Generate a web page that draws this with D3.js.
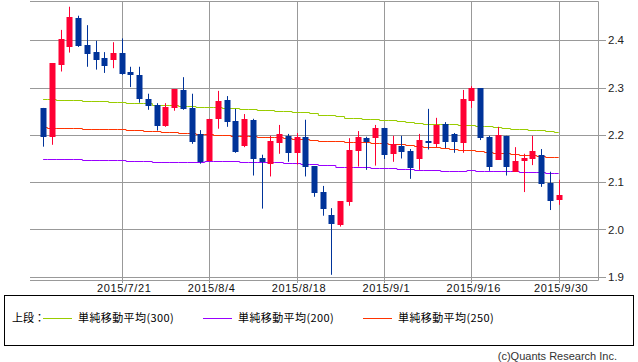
<!DOCTYPE html>
<html><head><meta charset="utf-8">
<script src="https://cdn.jsdelivr.net/npm/d3@7"></script>
<style>body{margin:0;background:#fff}svg{display:block}</style>
</head><body><svg id="c" width="638" height="362"></svg>
<script>
const dates = ["7/8","7/9","7/10","7/13","7/14","7/15","7/16","7/17","7/20","7/21","7/22","7/23","7/24","7/27","7/28","7/29","7/30","7/31",
"8/3","8/4","8/5","8/6","8/7","8/10","8/11","8/12","8/13","8/14","8/17","8/18","8/19","8/20","8/21","8/24","8/25","8/26","8/27","8/28","8/31",
"9/1","9/2","9/3","9/4","9/8","9/9","9/10","9/11","9/14","9/15","9/16","9/17","9/18","9/21","9/22","9/23","9/24","9/25","9/28","9/29","9/30"];
const opens = [2.257,2.196,2.348,2.386,2.447,2.390,2.375,2.362,2.358,2.374,2.332,2.327,2.276,2.263,2.219,2.257,2.295,2.257,2.201,2.144,2.234,2.274,2.229,2.177,2.232,2.151,2.139,2.183,2.198,2.162,2.196,2.134,2.079,2.031,2.009,2.057,2.166,2.193,2.194,2.215,2.160,2.177,2.166,2.149,2.187,2.181,2.223,2.202,2.183,2.272,2.299,2.196,2.147,2.198,2.122,2.145,2.149,2.157,2.098,2.062];
const highs = [2.257,2.352,2.422,2.471,2.452,2.432,2.399,2.375,2.396,2.404,2.344,2.344,2.287,2.267,2.267,2.297,2.322,2.287,2.210,2.234,2.293,2.282,2.255,2.244,2.234,2.158,2.198,2.221,2.202,2.204,2.232,2.134,2.092,2.045,2.060,2.193,2.208,2.196,2.221,2.215,2.198,2.198,2.170,2.202,2.255,2.236,2.227,2.204,2.295,2.303,2.299,2.198,2.217,2.198,2.174,2.160,2.198,2.170,2.122,2.105];
const lows = [2.175,2.179,2.334,2.374,2.386,2.344,2.338,2.331,2.341,2.327,2.301,2.268,2.253,2.209,2.217,2.251,2.253,2.181,2.139,2.144,2.213,2.217,2.162,2.174,2.114,2.044,2.112,2.160,2.143,2.137,2.112,2.069,2.029,1.904,2.006,2.050,2.133,2.126,2.135,2.149,2.143,2.150,2.107,2.126,2.169,2.174,2.172,2.162,2.162,2.257,2.189,2.124,2.147,2.114,2.122,2.079,2.136,2.090,2.041,2.052];
const closes = [2.196,2.352,2.403,2.449,2.389,2.372,2.358,2.346,2.374,2.329,2.327,2.276,2.261,2.219,2.259,2.297,2.255,2.185,2.142,2.234,2.272,2.228,2.164,2.234,2.150,2.143,2.187,2.202,2.162,2.196,2.131,2.078,2.044,2.012,2.060,2.168,2.196,2.185,2.215,2.158,2.181,2.164,2.130,2.190,2.183,2.221,2.185,2.185,2.276,2.299,2.194,2.132,2.200,2.131,2.145,2.151,2.166,2.096,2.060,2.073];
const sma300 = [2.275,2.275,2.274,2.274,2.274,2.272,2.272,2.272,2.270,2.270,2.267,2.267,2.267,2.264,2.264,2.264,2.261,2.261,2.258,2.258,2.258,2.256,2.256,2.254,2.254,2.253,2.253,2.250,2.250,2.248,2.248,2.246,2.243,2.243,2.240,2.236,2.236,2.234,2.234,2.231,2.231,2.229,2.227,2.225,2.224,2.224,2.222,2.222,2.220,2.220,2.218,2.218,2.216,2.215,2.212,2.212,2.210,2.210,2.208,2.206];
const sma200 = [2.150,2.150,2.148,2.148,2.148,2.146,2.146,2.146,2.146,2.146,2.144,2.144,2.144,2.142,2.142,2.142,2.142,2.142,2.142,2.144,2.144,2.144,2.144,2.142,2.142,2.142,2.142,2.142,2.140,2.140,2.138,2.138,2.136,2.136,2.133,2.131,2.131,2.131,2.129,2.129,2.129,2.127,2.127,2.125,2.125,2.125,2.123,2.123,2.123,2.125,2.123,2.123,2.123,2.123,2.123,2.121,2.121,2.121,2.119,2.119];
const sma250 = [2.216,2.215,2.215,2.215,2.215,2.213,2.213,2.213,2.212,2.212,2.210,2.210,2.208,2.208,2.206,2.206,2.204,2.204,2.202,2.202,2.200,2.200,2.198,2.198,2.197,2.196,2.196,2.196,2.193,2.192,2.192,2.189,2.186,2.186,2.186,2.185,2.185,2.184,2.183,2.183,2.181,2.181,2.179,2.176,2.174,2.174,2.172,2.170,2.168,2.168,2.166,2.164,2.162,2.162,2.160,2.157,2.157,2.155,2.153,2.153];
const xTickDates = ["7/21","8/4","8/18","9/1","9/16","9/30"];
const xTickLabels = ["2015/7/21","2015/8/4","2015/8/18","2015/9/1","2015/9/16","2015/9/30"];
const yTicks = [1.9,2.0,2.1,2.2,2.3,2.4];
const legendNames = ["単純移動平均(300)","単純移動平均(200)","単純移動平均(250)"];
const legendColors = ["#99cc00","#9900ff","#ff3300"];

const svg = d3.select("#c");
const L = 30, R = 598, T = 1, B = 280;
const x = d3.scaleLinear().domain([-1.5, dates.length + 3.5]).range([L, R]);
const y = d3.scaleLinear().domain([1.9, 2.4]).range([276.7, 40.3]);
const grid = "#999999";

// gridlines
svg.append("g").selectAll("line").data(yTicks).join("line")
  .attr("x1", L).attr("x2", R + 8)
  .attr("y1", d => Math.round(y(d)) + 0.5).attr("y2", d => Math.round(y(d)) + 0.5)
  .attr("stroke", grid);
const xTickIdx = xTickDates.map(d => dates.indexOf(d));
svg.append("g").selectAll("line").data(xTickIdx).join("line")
  .attr("x1", d => Math.round(x(d)) + 0.5).attr("x2", d => Math.round(x(d)) + 0.5)
  .attr("y1", T).attr("y2", B + 3)
  .attr("stroke", grid);
// frame
svg.append("path").attr("d", `M${L},${T+0.5}H${R+0.5}V${B+0.5}H${L}`)
  .attr("fill", "none").attr("stroke", grid);

// axes labels
const yAxis = d3.axisRight(y).tickValues(yTicks).tickFormat(d3.format(".1f")).tickSize(0).tickPadding(10);
const ya = svg.append("g").attr("transform", `translate(${R},0)`).call(yAxis);
ya.select(".domain").remove();
ya.selectAll("text").attr("font-family", "Liberation Sans, Arial, sans-serif").attr("font-size", 11.5).attr("fill", "#222");

const xAxis = d3.axisBottom(x).tickValues(xTickIdx).tickFormat((d, i) => xTickLabels[i]).tickSize(0).tickPadding(4);
const xa = svg.append("g").attr("transform", `translate(0,${B})`).call(xAxis);
xa.select(".domain").remove();
xa.selectAll("text").attr("font-family", "Liberation Sans, Arial, sans-serif").attr("font-size", 11)
  .attr("letter-spacing", "0.6px").attr("fill", "#111").attr("dx", 2);

// moving averages
const line = d3.line().x((d, i) => x(i)).y(d => Math.round(y(d)) + 0.5).curve(d3.curveStep);
[[sma300, legendColors[0]], [sma200, legendColors[1]], [sma250, legendColors[2]]].forEach(([s, c]) => {
  svg.append("path").attr("d", line(s)).attr("fill", "none").attr("stroke", c).attr("stroke-width", 1);
});

// candles
const up = "#ff0033", down = "#003399";
const cg = svg.append("g");
dates.forEach((d, i) => {
  const col = closes[i] >= opens[i] ? up : down;
  const cx = Math.round(x(i));
  cg.append("line").attr("x1", cx + 0.5).attr("x2", cx + 0.5)
    .attr("y1", y(highs[i])).attr("y2", y(lows[i])).attr("stroke", col).attr("stroke-width", 1);
  const y0 = y(Math.max(opens[i], closes[i])), y1 = y(Math.min(opens[i], closes[i]));
  cg.append("rect").attr("x", cx - 2.5).attr("width", 6)
    .attr("y", Math.round(y0)).attr("height", Math.max(1, Math.round(y1) - Math.round(y0)))
    .attr("fill", col);
});

// legend box
svg.append("rect").attr("x", 4.5).attr("y", 295.5).attr("width", 629).attr("height", 50)
  .attr("fill", "none").attr("stroke", "#000");
const jf = "'Noto Sans CJK JP', 'Noto Sans', sans-serif";
svg.append("text").attr("x", 12).attr("y", 322).attr("font-family", jf).attr("font-size", 11).attr("fill", "#000").text("上段：");
const lx = [43, 203, 363];
legendNames.forEach((n, i) => {
  svg.append("line").attr("x1", lx[i]).attr("x2", lx[i] + 29).attr("y1", 318.5).attr("y2", 318.5)
    .attr("stroke", legendColors[i]);
  svg.append("text").attr("x", lx[i] + 35).attr("y", 322).attr("font-family", jf).attr("font-size", 11)
    .attr("letter-spacing", "0.4px").attr("fill", "#000").text(n);
});
svg.append("text").attr("x", 617).attr("y", 360).attr("text-anchor", "end")
  .attr("font-family", "Liberation Sans, Arial, sans-serif").attr("font-size", 11).attr("fill", "#333")
  .text("(c)Quants Research Inc.");
</script></body></html>
